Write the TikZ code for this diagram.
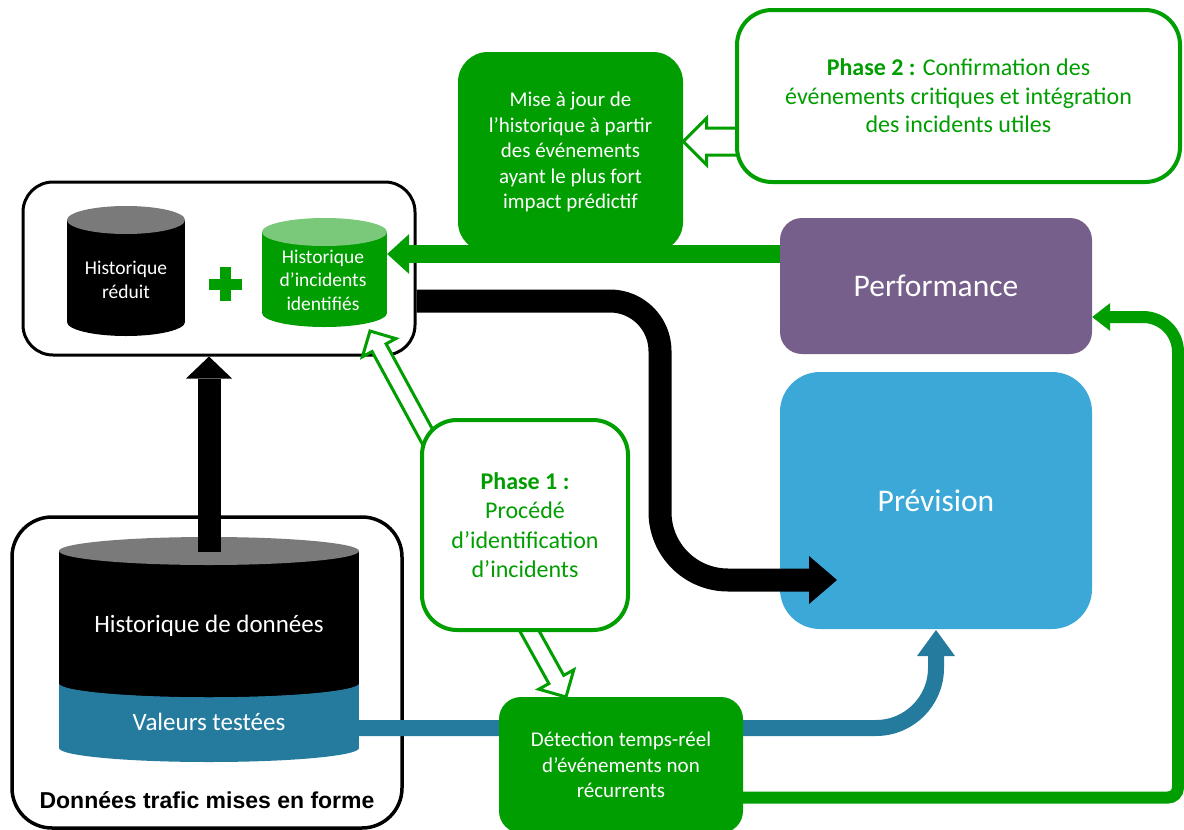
\documentclass[tikz,border=0pt]{standalone}
\usepackage{fontspec}
\setmainfont{Carlito}
\newfontfamily\arialfont{Liberation Sans}
\usetikzlibrary{arrows.meta,calc,shapes.arrows}
\definecolor{okgreen}{RGB}{0,158,0}
\definecolor{lidgreen}{RGB}{122,200,122}
\definecolor{lidgrey}{RGB}{122,122,122}
\definecolor{perfpurple}{RGB}{118,96,139}
\definecolor{prevblue}{RGB}{60,168,216}
\definecolor{testteal}{RGB}{36,123,158}
\tikzset{
  hist frame/.style={draw=black,line width=3pt,fill=white,inner sep=0pt},
  phase box/.style={draw=okgreen,line width=4pt,fill=white,text=okgreen,
    align=center,inner sep=0pt,rounded corners=35pt},
  green box/.style={fill=okgreen,text=white,align=center,inner sep=0pt,
    font=\fontsize{21}{25.5}\selectfont},
  big label/.style={text=white,inner sep=0pt,font=\fontsize{31.5}{38}\selectfont},
  drum text/.style={text=white,align=center,font=\fontsize{19.5}{23.5}\selectfont},
  big drum text/.style={text=white,font=\fontsize{25}{30}\selectfont},
  hollow arrow/.style={single arrow,draw=okgreen,line width=3pt,fill=white,
    inner xsep=0pt,outer sep=0pt,single arrow tip angle=90,anchor=tail}
}
% drum: name, centre x, top y, bottom y, half width, body, lid
\newcommand{\drumat}[7]{%
  \fill[#6] (#2-#5,#3) rectangle (#2+#5,#4);
  \fill[#6] (#2,#4) ellipse[x radius=#5,y radius=14];
  \fill[#7] (#2,#3) ellipse[x radius=#5,y radius=14];
  \node[inner sep=0pt,minimum width=2*#5,minimum height=#4-#3+28] (#1) at (#2,{(#3+#4)/2}) {};
}
% open block arrow: name, tail, tip, options
\newcommand{\hollowarrow}[4]{%
  \path let \p1=($(#3)-(#2)$), \n1={atan2(\y1,\x1)}, \n2={veclen(\x1,\y1)} in
    node[hollow arrow,rotate=\n1,minimum height=\n2,#4] (#1) at (#2) {};
}
\begin{document}
\begin{tikzpicture}[x=1pt,y=-1pt]
  \fill[white] (0,0) rectangle (1184,830);
  \useasboundingbox (0,0) rectangle (1184,830);

  % left frames and drums
  \node[hist frame,line width=3.5pt,rounded corners=40pt,minimum width=390pt,minimum height=311pt] (fmt) at (207,672.5) {};
  \node[hist frame,rounded corners=30pt,minimum width=392pt,minimum height=173pt] (topbox) at (219,268.5) {};
  \drumat{red}{126}{220}{322}{59}{black}{lidgrey}
  \drumat{gdrum}{324.5}{232}{313}{62.5}{okgreen}{lidgreen}
  \drumat{vals}{209}{683}{748}{150}{testteal}{black}
  \drumat{hist}{209}{551}{683}{150}{black}{lidgrey}
  \node[drum text] (redlbl) at (126,280) {Historique\\réduit};
  \node[drum text] (inclbl) at (323,280) {Historique\\d’incidents\\identifiés};
  \node[big drum text] (datalbl) at (209,626) {Historique de données};
  \node[big drum text] (testlbl) at (209,722) {Valeurs testées};
  \node[font=\arialfont\bfseries\fontsize{23}{28}\selectfont] (fmtlbl) at (207,800) {Données trafic mises en forme};
  \draw[okgreen,line width=11pt] (209,284) -- (242,284) (225.5,267) -- (225.5,301);

  % teal flow under the detection box
  \draw[testteal,line width=16pt,-{Triangle[length=26pt,width=38pt,line width=0pt]}]
    (vals.east |- 0,728) -- (876,728) .. controls (909.1,728) and (936,701.1) .. (936,668) -- (936,630);

  % boxes
  \node[green box,rounded corners=30pt,minimum width=225pt,minimum height=200pt] (maj) at (570.5,152)
    {Mise à jour de\\l’historique à partir\\des événements\\ayant le plus fort\\impact prédictif};
  \node[fill=perfpurple,rounded corners=22pt,minimum width=312pt,minimum height=136pt,big label] (perf) at (936,286) {Performance};
  \node[fill=prevblue,rounded corners=40pt,minimum width=312pt,minimum height=257pt,big label] (prev) at (936,500.5) {Prévision};
  \node[green box,rounded corners=22pt,minimum width=244pt,minimum height=136pt] (det) at (621,765)
    {Détection temps-réel\\d’événements non\\récurrents};

  % open arrows of the two phases
  \coordinate (p2tail) at (745,141.5);
  \coordinate (p2tip) at (maj.east |- p2tail);
  \coordinate (p1utail) at (432,445);
  \coordinate (p1utip) at (370,331);
  \coordinate (p1dtail) at (525,623);
  \coordinate (p1dtip) at (566,697);
  \hollowarrow{upd}{p2tail}{p2tip}{inner ysep=12pt,single arrow head extend=10pt}
  \hollowarrow{idup}{p1utail}{p1utip}{inner ysep=6.5pt,single arrow head extend=11pt}
  \hollowarrow{iddown}{p1dtail}{p1dtip}{inner ysep=7pt,single arrow head extend=11.5pt}

  \node[phase box,minimum width=443pt,minimum height=172pt,font=\fontsize{24}{28.5}\selectfont] (ph2) at (958.5,96)
    {{\bfseries Phase 2 :} Confirmation des\\événements critiques et intégration\\des incidents utiles};
  \node[phase box,minimum width=206pt,minimum height=210pt,font=\fontsize{24}{29.5}\selectfont] (ph1) at (525,525)
    {{\bfseries Phase 1 :}\\Procédé\\d’identification\\d’incidents};

  % solid flows
  \coordinate (previn) at (837,580);
  \draw[okgreen,line width=18pt,-{Triangle[length=22pt,width=40pt,line width=0pt]}]
    (perf.west |- 0,254) -- (gdrum.east |- 0,254);
  \draw[line width=23pt,-{Triangle[length=22pt,width=46pt,line width=0pt]}]
    ([yshift=-15pt]hist.north) -- (hist.north |- topbox.south);
  \draw[line width=23pt,-{Triangle[length=28pt,width=48pt,line width=0pt]}]
    (topbox.east |- 0,301) -- (610,301) .. controls (637.6,301) and (660,323.4) .. (660,351)
    -- (660,512) .. controls (660,549.6) and (690.4,580) .. (728,580) -- (previn);
  \draw[okgreen,line width=12pt,-{Triangle[length=18pt,width=28pt,line width=0pt]}]
    (det.east |- 0,797.5) -- (1168,797.5) .. controls (1173.5,797.5) and (1178,793) .. (1178,787.5)
    -- (1178,352) .. controls (1178,332.7) and (1162.3,317) .. (1143,317) -- (perf.east |- 0,317);
\end{tikzpicture}
\end{document}
